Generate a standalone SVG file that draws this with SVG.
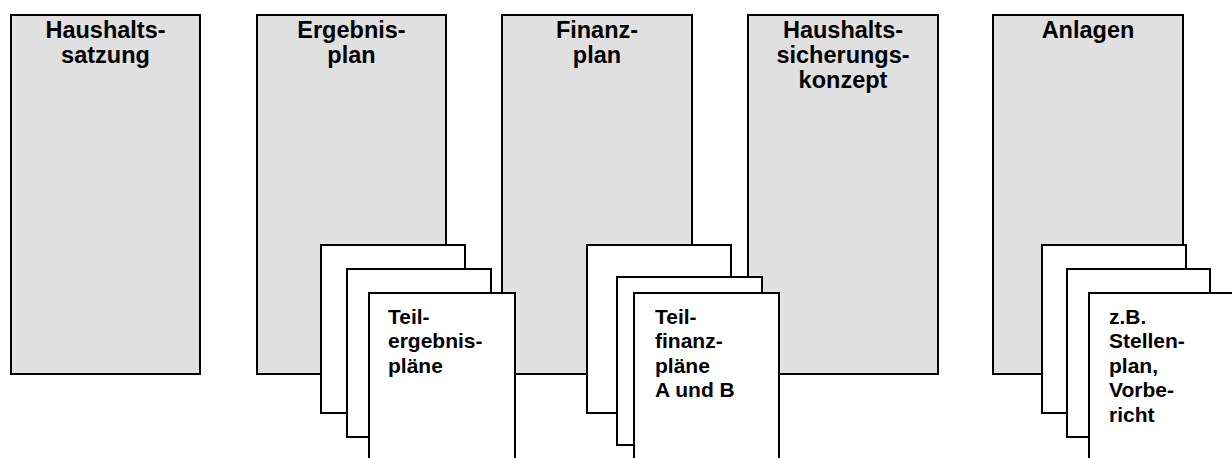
<svg xmlns="http://www.w3.org/2000/svg" width="1232" height="458" viewBox="0 0 1232 458">
<style>
.box{fill:#e0e0e0;stroke:#000;stroke-width:2}
.page{fill:#fff;stroke:#000;stroke-width:2}
.h{font-family:"Liberation Sans",Arial,sans-serif;font-weight:bold;font-size:23.5px;text-anchor:middle;fill:#000}
.t{font-family:"Liberation Sans",Arial,sans-serif;font-weight:bold;font-size:21px;fill:#000}
</style>
<rect width="1232" height="458" fill="#fff"/>
<g id="haushaltssatzung">
<rect class="box" x="11" y="15" width="189" height="359"/>
<text class="h" x="105.5" y="38">Haushalts-</text>
<text class="h" x="105.5" y="63">satzung</text>
</g>
<g id="ergebnisplan">
<rect class="box" x="257" y="15" width="189" height="359"/>
<text class="h" x="351.5" y="38">Ergebnis-</text>
<text class="h" x="351.5" y="63">plan</text>
</g>
<g id="finanzplan">
<rect class="box" x="502" y="15" width="190" height="359"/>
<text class="h" x="597" y="38">Finanz-</text>
<text class="h" x="597" y="63">plan</text>
</g>
<g id="haushaltssicherungskonzept">
<rect class="box" x="748" y="15" width="190" height="359"/>
<text class="h" x="843" y="38">Haushalts-</text>
<text class="h" x="843" y="63">sicherungs-</text>
<text class="h" x="843" y="88">konzept</text>
</g>
<g id="anlagen">
<rect class="box" x="993" y="15" width="190" height="359"/>
<text class="h" x="1088" y="38">Anlagen</text>
</g>
<g id="teilergebnisplaene">
<rect class="page" x="321" y="245" width="144" height="168"/>
<rect class="page" x="347" y="269" width="144" height="168"/>
<rect class="page" x="369" y="293" width="146" height="180"/>
<text class="t" x="388" y="323.5">Teil-</text>
<text class="t" x="388" y="348">ergebnis-</text>
<text class="t" x="388" y="372.5">pläne</text>
</g>
<g id="teilfinanzplaene">
<rect class="page" x="587" y="245" width="144" height="168"/>
<rect class="page" x="617" y="277" width="145" height="168"/>
<rect class="page" x="634" y="293" width="145" height="180"/>
<text class="t" x="655" y="323.5">Teil-</text>
<text class="t" x="655" y="348">finanz-</text>
<text class="t" x="655" y="372.5">pläne</text>
<text class="t" x="655" y="397">A und B</text>
</g>
<g id="anlagen-seiten">
<rect class="page" x="1042" y="245" width="144" height="168"/>
<rect class="page" x="1067" y="269" width="143" height="168"/>
<rect class="page" x="1089" y="293" width="150" height="180"/>
<text class="t" x="1109" y="323.5">z.B.</text>
<text class="t" x="1109" y="348">Stellen-</text>
<text class="t" x="1109" y="372.5">plan,</text>
<text class="t" x="1109" y="397">Vorbe-</text>
<text class="t" x="1109" y="421.5">richt</text>
</g>
<g id="connectors"/>
</svg>
